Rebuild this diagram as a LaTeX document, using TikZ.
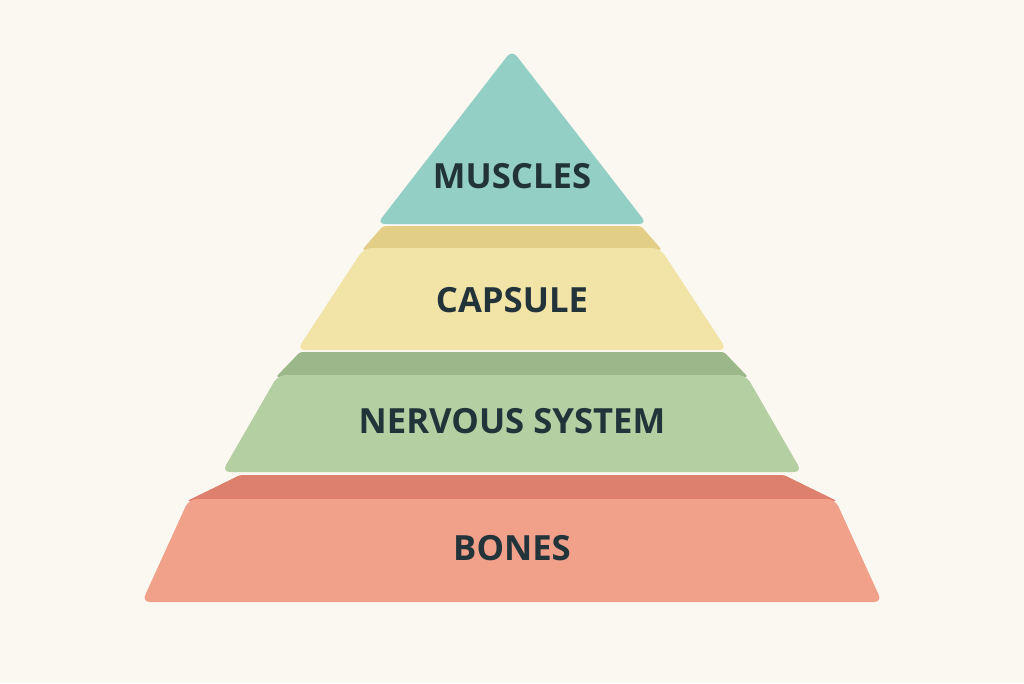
\documentclass[tikz,border=0pt]{standalone}
\usepackage{fontspec}
\setmainfont{Open Sans}
\usepackage{tikz}
\definecolor{pagebg}{HTML}{FBF8F2}
\definecolor{musclesface}{HTML}{93CFC4}
\definecolor{capsuleface}{HTML}{F2E3A6}
\definecolor{capsuleband}{HTML}{E3CE87}
\definecolor{nervousface}{HTML}{B4CFA2}
\definecolor{nervousband}{HTML}{9CB88A}
\definecolor{bonesface}{HTML}{F1A08A}
\definecolor{bonesband}{HTML}{DD816E}
\definecolor{labeltext}{HTML}{22343A}
\tikzset{
  layer/.style={rounded corners=6pt},
  band/.style={rounded corners=2pt},
  label/.style={font=\bfseries\fontsize{26}{30}\selectfont, text=labeltext}
}
\begin{document}
\begin{tikzpicture}[x=0.75pt,y=-0.75pt]
\fill[pagebg] (0,0) rectangle (1024,683);
\useasboundingbox (0,0) rectangle (1024,683);
% top
\fill[layer,musclesface] (512,50) -- (647,224) -- (377,224) -- cycle;
% capsule
\fill[band,capsuleband] (383,226) -- (641,226) -- (662,250) -- (362,250) -- cycle;
\fill[layer,capsuleface] (364,248) -- (660,248) -- (727,350) -- (297,350) -- cycle;
% nervous system
\fill[band,nervousband] (300,352) -- (724,352) -- (748,377) -- (276,377) -- cycle;
\fill[layer,nervousface] (278,375) -- (746,375) -- (802,472) -- (222,472) -- cycle;
% bones
\fill[band,bonesband] (240,475) -- (784,475) -- (837,501) -- (187,501) -- cycle;
\fill[layer,bonesface] (189,499) -- (835,499) -- (882,602) -- (142,602) -- cycle;
\node[label] (muscles) at (512,176) {MUSCLES};
\node[label] (capsule) at (512,300) {CAPSULE};
\node[label] (nervous) at (512,421) {NERVOUS SYSTEM};
\node[label] (bones) at (512,548) {BONES};
\end{tikzpicture}
\end{document}
